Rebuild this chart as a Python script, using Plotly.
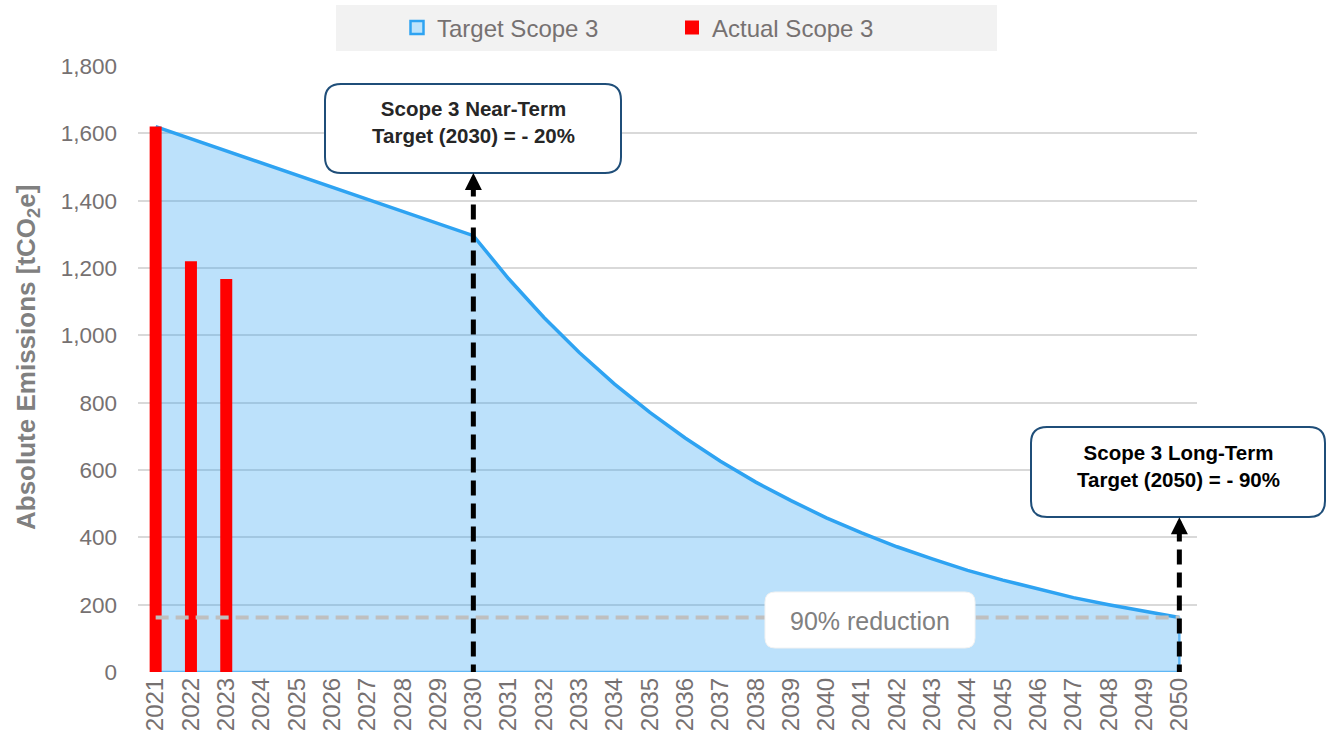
import plotly.graph_objects as go

years = [str(y) for y in range(2021, 2051)]
target_scope3 = [1620, 1584, 1548, 1512, 1476, 1440, 1404, 1368, 1332, 1296,
                 1168, 1053, 949, 855, 771, 695, 626, 564, 509, 458,
                 413, 372, 336, 302, 273, 246, 221, 200, 180, 162]
actual_years = ["2021", "2022", "2023"]
actual_scope3 = [1620, 1220, 1167]
reduction_level = 162
near_term_year = "2030"
long_term_year = "2050"
near_term_box_y = 1482
long_term_box_y = 460
y_ticks = [0, 200, 400, 600, 800, 1000, 1200, 1400, 1600, 1800]

FONT = "Liberation Sans, Arial, sans-serif"
GRAY = "#767171"

fig = go.Figure()

# target area
fig.add_trace(go.Scatter(
    x=years, y=target_scope3, mode="lines", name="Target Scope 3",
    line=dict(color="#2EA3F2", width=3.5), fill="tozeroy",
    fillcolor="rgba(46,163,242,0.32)", showlegend=False, xaxis="x", yaxis="y"))
# outline at right edge and bottom
fig.add_trace(go.Scatter(
    x=[years[-1], years[-1], years[0]], y=[target_scope3[-1], 0, 0],
    mode="lines", line=dict(color="#5FB7F5", width=2.5), showlegend=False,
    hoverinfo="skip", xaxis="x", yaxis="y"))

# actual bars (overlay axes so they sit above the area)
fig.add_trace(go.Bar(
    x=actual_years, y=actual_scope3, name="Actual Scope 3",
    marker=dict(color="#FF0000", line=dict(width=0)), width=0.34,
    showlegend=False, xaxis="x2", yaxis="y2"))
# 90% reduction dashed line
fig.add_trace(go.Scatter(
    x=[years[0], years[-1]], y=[reduction_level, reduction_level],
    mode="lines", line=dict(color="#BFBFBF", width=4, dash="13px,7px"),
    showlegend=False, hoverinfo="skip", xaxis="x2", yaxis="y2"))

# legend entries
fig.add_trace(go.Scatter(
    x=[None], y=[None], mode="markers", name="Target Scope 3",
    marker=dict(symbol="square", size=13, color="#BDE3FB",
                line=dict(color="#2EA3F2", width=2.5)), xaxis="x", yaxis="y"))
fig.add_trace(go.Scatter(
    x=[None], y=[None], mode="markers", name="Actual Scope 3",
    marker=dict(symbol="square", size=14, color="#FF0000", line=dict(width=0)),
    xaxis="x", yaxis="y"))

# plot-area pixel geometry
FW, FH = 1328, 742
L, R, T, B = 138, 1197, 66, 672
W, H = R - L, B - T


def px(xp):
    return (xp - L) / W


def py(yp):
    return (B - yp) / H


def rounded(x0p, y0p, x1p, y1p, r=14):
    a, b, c, d = px(x0p), px(x1p), py(y0p), py(y1p)  # left, right, top, bottom
    rx, ry = r / W, r / H
    return (f"M {a+rx},{c} L {b-rx},{c} Q {b},{c} {b},{c-ry} "
            f"L {b},{d+ry} Q {b},{d} {b-rx},{d} L {a+rx},{d} "
            f"Q {a},{d} {a},{d+ry} L {a},{c-ry} Q {a},{c} {a+rx},{c} Z")


shapes = []
# legend background
shapes.append(dict(type="rect", xref="paper", yref="paper",
                   x0=px(336), x1=px(997), y0=py(51), y1=py(5),
                   fillcolor="#F2F2F2", line=dict(width=0), layer="below"))
# 90% reduction label box
shapes.append(dict(type="path", xref="paper", yref="paper",
                   path=rounded(765, 592, 975, 648, 10),
                   fillcolor="white", line=dict(color="#F2F2F2", width=1), layer="above"))
# dashed arrows
ni = years.index(near_term_year)
li = years.index(long_term_year)
shapes.append(dict(type="line", xref="x", yref="y", x0=ni, x1=ni, y0=-22, y1=near_term_box_y - 45,
                   line=dict(color="black", width=5, dash="15px,8px"), layer="above"))
shapes.append(dict(type="line", xref="x", yref="y", x0=li, x1=li, y0=-22, y1=long_term_box_y - 45,
                   line=dict(color="black", width=5, dash="15px,8px"), layer="above"))
# target boxes
shapes.append(dict(type="path", xref="paper", yref="paper",
                   path=rounded(325, 84, 621, 173, 16),
                   fillcolor="white", line=dict(color="#1F4E79", width=2), layer="above"))
shapes.append(dict(type="path", xref="paper", yref="paper",
                   path=rounded(1031, 427, 1325, 517, 16),
                   fillcolor="white", line=dict(color="#1F4E79", width=2), layer="above"))

annotations = [
    dict(x=ni, y=near_term_box_y, xref="x", yref="y", ax=0, ay=18,
         text="", showarrow=True, arrowhead=2, arrowsize=0.85, arrowwidth=4, arrowcolor="black"),
    dict(x=li, y=long_term_box_y, xref="x", yref="y", ax=0, ay=18,
         text="", showarrow=True, arrowhead=2, arrowsize=0.85, arrowwidth=4, arrowcolor="black"),
    dict(x=px(473), y=py(122), xref="paper", yref="paper", showarrow=False,
         xanchor="center", yanchor="middle",
         text="<b>Scope 3 Near-Term<br>Target (2030) = - 20%</b>",
         font=dict(family=FONT, size=20.5, color="#262626"), align="center"),
    dict(x=px(1178), y=py(466), xref="paper", yref="paper", showarrow=False,
         xanchor="center", yanchor="middle",
         text="<b>Scope 3 Long-Term<br>Target (2050) = - 90%</b>",
         font=dict(family=FONT, size=20.5, color="#000000"), align="center"),
    dict(x=px(870), y=py(621), xref="paper", yref="paper", showarrow=False,
         xanchor="center", yanchor="middle",
         text="90% reduction", font=dict(family=FONT, size=25, color="#808080")),
    dict(x=px(28), y=py(358), xref="paper", yref="paper", showarrow=False,
         xanchor="center", yanchor="middle",
         text="<b>Absolute Emissions [tCO<sub>2</sub>e]</b>", textangle=-90,
         font=dict(family=FONT, size=26, color="#808080")),
]

xaxis_common = dict(type="category", categoryorder="array", categoryarray=years,
                    range=[-0.5, len(years) - 0.5])

fig.update_layout(
    width=FW, height=FH,
    margin=dict(l=L, r=FW - R, t=T, b=FH - B, autoexpand=False),
    paper_bgcolor="white", plot_bgcolor="white",
    font=dict(family=FONT, color=GRAY),
    xaxis=dict(**xaxis_common, tickangle=-90, showgrid=False, showline=False,
               ticks="", tickfont=dict(size=24, color=GRAY), ticklabelstandoff=0,
               automargin=False),
    yaxis=dict(range=[0, 1800], tickvals=y_ticks, tickformat=",", showgrid=True,
               gridcolor="#D9D9D9", gridwidth=2, zeroline=False, showline=False,
               tickfont=dict(size=22.5, color=GRAY), ticklabelstandoff=20,
               automargin=False),
    xaxis2=dict(**xaxis_common, overlaying="x", visible=False),
    yaxis2=dict(range=[0, 1800], overlaying="y", visible=False),
    barmode="overlay",
    legend=dict(orientation="h", x=px(672), xanchor="center", y=py(28), yanchor="middle",
                bgcolor="rgba(0,0,0,0)", font=dict(size=24, color=GRAY), entrywidth=230,
                itemwidth=30),
    shapes=shapes, annotations=annotations, showlegend=True,
)

fig.write_html(
    "out.html",
    config={"displayModeBar": False},
    post_script="document.body.style.margin='0';document.body.style.overflow='hidden';",
)
